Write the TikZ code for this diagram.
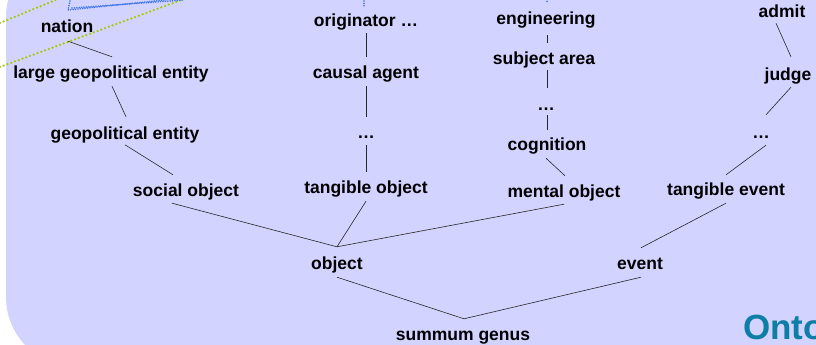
\documentclass[tikz,border=0pt]{standalone}
\usepackage{fontspec}
\setmainfont{Liberation Sans}
\definecolor{panel}{RGB}{211,211,255}
\definecolor{limedot}{RGB}{160,204,0}
\definecolor{bluedot}{RGB}{64,118,232}
\definecolor{titleteal}{RGB}{14,126,166}
\begin{document}
\begin{tikzpicture}[x=1pt,y=-1pt,
  term/.style={font=\fontsize{17.5}{20}\selectfont\bfseries, inner sep=0pt,
               text height=12.5pt, text depth=3.6pt, anchor=base},
  link/.style={draw=black!85, line width=0.6pt},
  limeline/.style={draw=limedot, line width=2.5pt, line cap=round, dash pattern=on 0pt off 4pt},
  blueline/.style={draw=bluedot, line width=1.8pt, line cap=round, dash pattern=on 0pt off 2.4pt}]
\useasboundingbox (0,0) rectangle (816,345);
\clip (0,0) rectangle (816,345);
\fill[white] (0,0) rectangle (816,345);
\fill[panel, rounded corners=70pt] (6,-53) rectangle (900,367);

% dotted guide lines along the top edge
\draw[limeline] (0,23) -- (58,-1);
\draw[limeline] (0,67) -- (184,-1);
\draw[blueline] (70,1) -- (68,10) -- (184,-2);
\draw[blueline] (72,8) -- (184,0);
\draw[blueline] (364,1) -- (364,6);
\draw[blueline] (547,-1) -- (547,2);

% object branch
\node[term] (nation) at (67,33) {nation};
\node[term] (lge) at (111,78) {large geopolitical entity};
\node[term] (geo) at (125,139) {geopolitical entity};
\node[term] (social) at (186,196) {social object};
\node[term] (orig) at (366,27) {originator …};
\node[term] (causal) at (366,78) {causal agent};
\node[term] (dotsA) at (366,138) {…};
\node[term] (tobj) at (366,193) {tangible object};
\node[term] (eng) at (546,25) {engineering};
\node[term] (subj) at (544,64) {subject area};
\node[term] (dotsB) at (546,110) {…};
\node[term] (cog) at (547,150) {cognition};
\node[term] (mental) at (564,197) {mental object};
\node[term] (object) at (337,269) {object};

% event branch
\node[term] (admit) at (782,18) {admit};
\node[term] (judge) at (788,80) {judge};
\node[term] (dotsC) at (761,138) {…};
\node[term] (tevent) at (726,195) {tangible event};
\node[term] (event) at (640,269) {event};

% root
\node[term] (summum) at (463,340) {summum genus};

% title
\node[font=\fontsize{35}{40}\selectfont\bfseries, text=titleteal, inner sep=0pt, anchor=base west] (title) at (743,339) {Onto};

% connectors
\draw[link] ([xshift=1pt,yshift=-4.4pt]nation.south) -- ([xshift=1pt,yshift=8.5pt]lge.north);
\draw[link] ([xshift=1pt,yshift=-4.4pt]lge.south) -- ([xshift=1pt,yshift=9.5pt]geo.north);
\draw[link] ([yshift=-2pt]geo.south) -- ([xshift=-13pt,yshift=8.5pt]social.north);
\draw[link] ([xshift=-14pt,yshift=-3.4pt]social.south) -- ([yshift=9.5pt]object.north);
\draw[link] ([yshift=-4.4pt]tobj.south) -- ([yshift=9.5pt]object.north);
\draw[link] ([yshift=-3.4pt]mental.south) -- ([yshift=9.5pt]object.north);
\draw[link] ([yshift=-4.4pt]object.south) -- ([xshift=1pt,yshift=8.5pt]summum.north);
\draw[link] ([xshift=1pt,yshift=-4.4pt]event.south) -- ([xshift=1pt,yshift=8.5pt]summum.north);
\draw[link] ([yshift=-4.4pt]tevent.south) -- ([xshift=1pt,yshift=8.5pt]event.north);
\draw[link] ([xshift=5pt,yshift=-3.4pt]dotsC.south) -- ([yshift=7.5pt]tevent.north);
\draw[link] ([xshift=3pt,yshift=-3.4pt]judge.south) -- ([xshift=5pt,yshift=10.5pt]dotsC.north);
\draw[link] ([xshift=-6pt,yshift=-1.4pt]admit.south) -- ([xshift=3pt,yshift=10.5pt]judge.north);
\draw[link] ([xshift=-1pt,yshift=-4.4pt]cog.south) -- ([xshift=1pt,yshift=8.5pt]mental.north);
\draw[link] ([xshift=1pt,yshift=-1.4pt]dotsB.south) -- ([yshift=7.5pt]cog.north);
\draw[link] ([xshift=3pt,yshift=-2.4pt]subj.south) -- ([xshift=1pt,yshift=9.5pt]dotsB.north);
\draw[link] ([xshift=1pt,yshift=-6.4pt]eng.south) -- ([xshift=3pt,yshift=8.5pt]subj.north);
\draw[link] ([yshift=-2.4pt]orig.south) -- ([yshift=8.5pt]causal.north);
\draw[link] ([yshift=-4.4pt]causal.south) -- ([yshift=8.5pt]dotsA.north);
\draw[link] ([yshift=-3.4pt]dotsA.south) -- ([yshift=8.5pt]tobj.north);
\end{tikzpicture}
\end{document}
